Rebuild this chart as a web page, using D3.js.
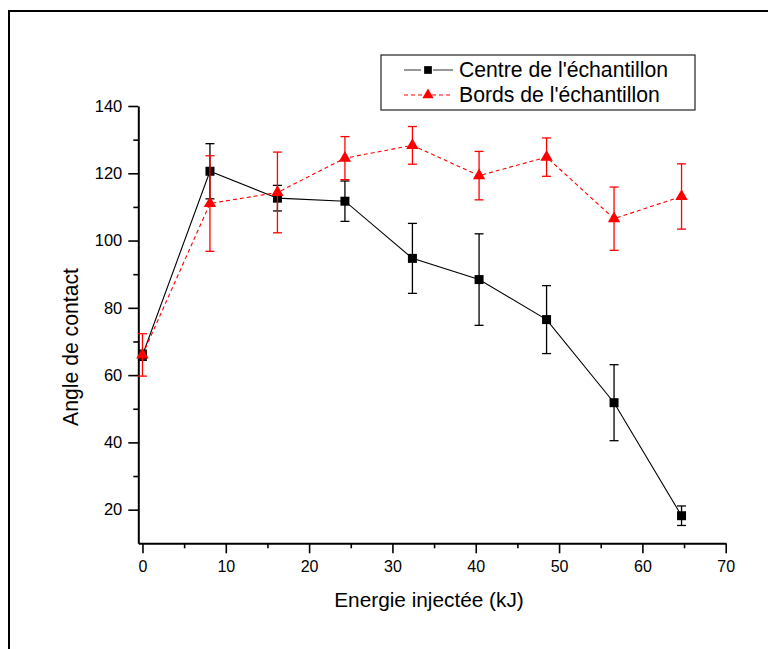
<!DOCTYPE html>
<html>
<head>
<meta charset="utf-8">
<script src="https://cdn.jsdelivr.net/npm/d3@7"></script>
<style>
  html, body { margin: 0; padding: 0; background: #fff; }
  svg { display: block; }
  text { font-family: "Liberation Sans", Arial, sans-serif; fill: #000; }
</style>
</head>
<body>
<svg id="chart" width="768" height="649"></svg>
<script>
// ---- data ----
const energy = [0, 8.1, 16.2, 24.3, 32.4, 40.4, 48.5, 56.6, 64.7];
const centreValues = [65.9, 120.6, 112.6, 111.7, 94.7, 88.4, 76.5, 51.8, 18.2];
const centreErrors = [1.5, 8.2, 3.8, 6.0, 10.4, 13.6, 10.1, 11.3, 2.9];
const bordsValues = [66.0, 111.0, 114.3, 124.5, 128.3, 119.3, 124.8, 106.5, 113.1];
const bordsErrors = [6.3, 14.2, 12.0, 6.4, 5.6, 7.2, 5.7, 9.4, 9.7];
const seriesNames = ["Centre de l'échantillon", "Bords de l'échantillon"];
const xMajorTicks = [0, 10, 20, 30, 40, 50, 60, 70];
const xMinorTicks = [5, 15, 25, 35, 45, 55, 65];
const yMajorTicks = [20, 40, 60, 80, 100, 120, 140];
const yMinorTicks = [30, 50, 70, 90, 110, 130];
const xTitle = "Energie injectée (kJ)";
const yTitle = "Angle de contact";

const svg = d3.select("#chart");

// outer frame (cut off at right/bottom)
svg.append("rect")
  .attr("x", 9).attr("y", 11)
  .attr("width", 780).attr("height", 660)
  .attr("fill", "none").attr("stroke", "#000").attr("stroke-width", 2);

const x = d3.scaleLinear().domain([-0.5, 70]).range([138.3, 725.7]);
const y = d3.scaleLinear().domain([10, 140]).range([543.3, 106]);

const axisColor = "#000";

// X axis
const gx = svg.append("g").attr("transform", `translate(0,${y(10)})`);
gx.call(d3.axisBottom(x).tickValues(xMajorTicks).tickSize(10).tickSizeOuter(0).tickPadding(7).tickFormat(d3.format("d")));
gx.append("g").call(d3.axisBottom(x).tickValues(xMinorTicks).tickSize(5).tickSizeOuter(0).tickFormat(""))
  .select(".domain").remove();
gx.selectAll(".domain").attr("stroke-width", 2).attr("stroke", axisColor);
gx.selectAll(".tick line").attr("stroke-width", 1.6).attr("stroke", axisColor);
gx.selectAll(".tick text").attr("font-size", 16).attr("font-family", "Liberation Sans, Arial, sans-serif").attr("fill", "#000");

// Y axis
const gy = svg.append("g").attr("transform", `translate(${x(-0.5)},0)`);
gy.call(d3.axisLeft(y).tickValues(yMajorTicks).tickSize(10).tickSizeOuter(0).tickPadding(6).tickFormat(d3.format("d")));
gy.append("g").call(d3.axisLeft(y).tickValues(yMinorTicks).tickSize(5).tickSizeOuter(0).tickFormat(""))
  .select(".domain").remove();
gy.selectAll(".domain").attr("stroke-width", 2).attr("stroke", axisColor);
gy.selectAll(".tick line").attr("stroke-width", 1.6).attr("stroke", axisColor);
gy.selectAll(".tick text").attr("font-size", 16.5).attr("font-family", "Liberation Sans, Arial, sans-serif").attr("fill", "#000");

// axis titles
svg.append("text").attr("x", 429).attr("y", 607).attr("text-anchor", "middle")
  .attr("font-size", 20.8).text(xTitle);
svg.append("text").attr("transform", `translate(78,347) rotate(-90)`).attr("text-anchor", "middle")
  .attr("font-size", 21.2).text(yTitle);

// series
const centre = energy.map((e, i) => ({x: e, y: centreValues[i], err: centreErrors[i]}));
const bords = energy.map((e, i) => ({x: e, y: bordsValues[i], err: bordsErrors[i]}));

const line = d3.line().x(d => x(d.x)).y(d => y(d.y));

function drawSeries(data, color, dash, markerType, size) {
  const g = svg.append("g");
  g.append("path").datum(data).attr("d", line)
    .attr("fill", "none").attr("stroke", color).attr("stroke-width", 1.1)
    .attr("stroke-dasharray", dash);
  const eb = g.selectAll(".eb").data(data).enter().append("g");
  const cap = 4.5;
  eb.append("line").attr("x1", d => x(d.x)).attr("x2", d => x(d.x))
    .attr("y1", d => y(d.y + d.err)).attr("y2", d => y(d.y - d.err))
    .attr("stroke", color).attr("stroke-width", 1.3);
  eb.append("line").attr("x1", d => x(d.x) - cap).attr("x2", d => x(d.x) + cap)
    .attr("y1", d => y(d.y + d.err)).attr("y2", d => y(d.y + d.err))
    .attr("stroke", color).attr("stroke-width", 1.3);
  eb.append("line").attr("x1", d => x(d.x) - cap).attr("x2", d => x(d.x) + cap)
    .attr("y1", d => y(d.y - d.err)).attr("y2", d => y(d.y - d.err))
    .attr("stroke", color).attr("stroke-width", 1.3);
  g.selectAll(".m").data(data).enter().append("path")
    .attr("transform", d => `translate(${x(d.x)},${y(d.y)})`)
    .attr("d", d3.symbol().type(markerType).size(size))
    .attr("fill", color);
}

drawSeries(centre, "#000", null, d3.symbolSquare, 81);
drawSeries(bords, "#ff0000", "4,3", d3.symbolTriangle, 66);

// legend
const lg = svg.append("g");
lg.append("rect").attr("x", 381).attr("y", 55).attr("width", 314).attr("height", 55)
  .attr("fill", "#fff").attr("stroke", "#222").attr("stroke-width", 1.2);
const legendItems = [
  {name: seriesNames[0], color: "#000", dash: null, type: d3.symbolSquare, size: 60, cy: 70},
  {name: seriesNames[1], color: "#ff0000", dash: "4,3", type: d3.symbolTriangle, size: 55, cy: 95}
];
legendItems.forEach(it => {
  lg.append("line").attr("x1", 404).attr("x2", 453).attr("y1", it.cy).attr("y2", it.cy)
    .attr("stroke", it.color === "#000" ? "#333" : it.color).attr("stroke-width", 1.2)
    .attr("stroke-dasharray", it.dash);
  if (it.color === "#000") {
    lg.append("line").attr("x1", 421).attr("x2", 433).attr("y1", it.cy).attr("y2", it.cy)
      .attr("stroke", "#fff").attr("stroke-width", 3);
  }
  lg.append("path").attr("transform", `translate(428,${it.cy})`)
    .attr("d", d3.symbol().type(it.type).size(it.size)).attr("fill", it.color);
  lg.append("text").attr("x", 459).attr("y", it.cy + 7).attr("font-size", 21.2).text(it.name);
});
</script>
</body>
</html>
